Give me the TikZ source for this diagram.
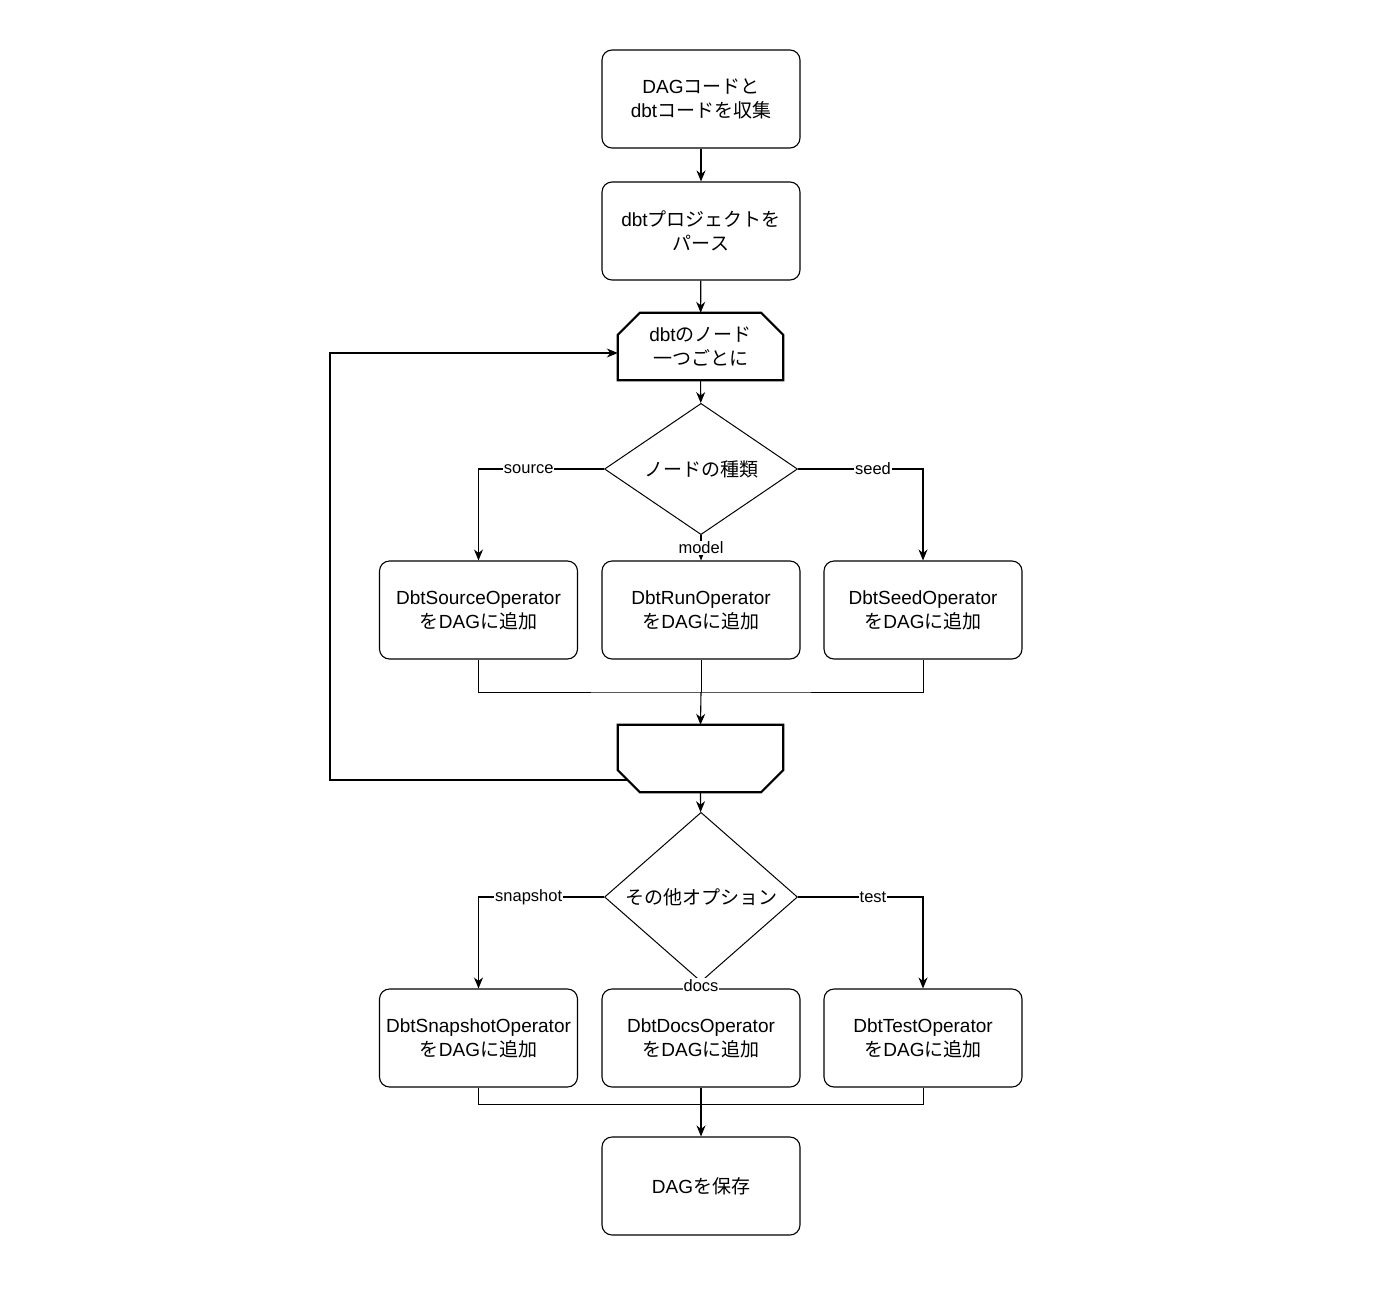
\documentclass[tikz,border=0pt]{standalone}
\usepackage{fontspec}
\setmainfont{Liberation Sans}
\newfontfamily\jp{Noto Sans CJK JP}
\usetikzlibrary{shapes.geometric,arrows.meta}
\begin{document}
\begin{tikzpicture}[x=1pt,y=-1pt,
  box/.style={draw,rounded corners=10pt,minimum width=198pt,minimum height=98pt,line width=1.1pt,align=center,font=\fontsize{19}{24}\selectfont},
  dia/.style={draw,diamond,minimum width=193pt,minimum height=108pt,inner sep=0pt,line width=1pt,font=\fontsize{19}{24}\selectfont},
  lp/.style={minimum width=165pt,minimum height=67pt,inner sep=0pt,align=center,font=\fontsize{19}{24}\selectfont},
  lbl/.style={fill=white,inner sep=1pt,font=\fontsize{16.5}{20}\selectfont},
  arr/.style={-{Stealth[length=11pt,width=9pt]},line width=1.1pt},
  ln/.style={line width=1pt}]
\useasboundingbox (0,0) rectangle (1400,1301);
\node[box] (a) at (701,99) {DAG{\jp コードと}\\dbt{\jp コードを収集}};
\node[box] (b) at (701,231) {dbt{\jp プロジェクトを}\\{\jp パース}};
\node[lp] (ls) at (700.5,346.5) {dbt{\jp のノード}\\{\jp 一つごとに}};
\draw[line width=2.2pt] (ls.south west) -- ([yshift=-22pt]ls.north west) -- ([xshift=22pt]ls.north west) -- ([xshift=-22pt]ls.north east) -- ([yshift=-22pt]ls.north east) -- (ls.south east) -- cycle;
\node[dia] (d1) at (701,469) {{\jp ノードの種類}};
\node[box] (s1) at (478.5,610) {DbtSourceOperator\\{\jp を}DAG{\jp に追加}};
\node[box] (s2) at (701,610) {DbtRunOperator\\{\jp を}DAG{\jp に追加}};
\node[box] (s3) at (923,610) {DbtSeedOperator\\{\jp を}DAG{\jp に追加}};
\node[lp] (le) at (700.5,758.5) {};
\draw[line width=2.2pt] (le.north west) -- ([yshift=22pt]le.south west) -- ([xshift=22pt]le.south west) -- ([xshift=-22pt]le.south east) -- ([yshift=22pt]le.south east) -- (le.north east) -- cycle;
\node[dia] (d2) at (701,897) {{\jp その他オプション}};
\node[box] (t1) at (478.5,1038) {DbtSnapshotOperator\\{\jp を}DAG{\jp に追加}};
\node[box] (t2) at (701,1038) {DbtDocsOperator\\{\jp を}DAG{\jp に追加}};
\node[box] (t3) at (923,1038) {DbtTestOperator\\{\jp を}DAG{\jp に追加}};
\node[box] (f) at (701,1186) {DAG{\jp を保存}};
\coordinate (m1) at (701,692);
\coordinate (m2) at (701,1104);
\coordinate (lb) at (628,780);
\draw[arr] (a) -- (b);
\draw[arr] (b) -- (ls);
\draw[arr] (ls) -- (d1);
\draw[arr] (d1.west) -| node[lbl,pos=0.3]{source} (s1.north);
\draw[arr] (d1.east) -| node[lbl,pos=0.3]{seed} (s3.north);
\draw[arr] (d1.south) -- node[lbl]{model} (s2.north);
\draw[ln] (s1.south) |- (m1) -| (s3.south);
\draw[ln] (s2.south) -- (m1);
\draw[arr] (m1) -- (le.north);
\draw[arr] (lb) -- (330,780) -- (330,353) -- (ls.west |- 0,353);
\draw[arr] (le.south) -- (d2);
\draw[arr] (d2.west) -| node[lbl,pos=0.3]{snapshot} (t1.north);
\draw[arr] (d2.east) -| node[lbl,pos=0.3]{test} (t3.north);
\draw[arr] (d2.south) -- node[lbl]{docs} (t2.north);
\draw[ln] (t1.south) |- (m2) -| (t3.south);
\draw[ln] (t2.south) -- (m2);
\draw[arr] (t2.south) -- (f);
\end{tikzpicture}
\end{document}
